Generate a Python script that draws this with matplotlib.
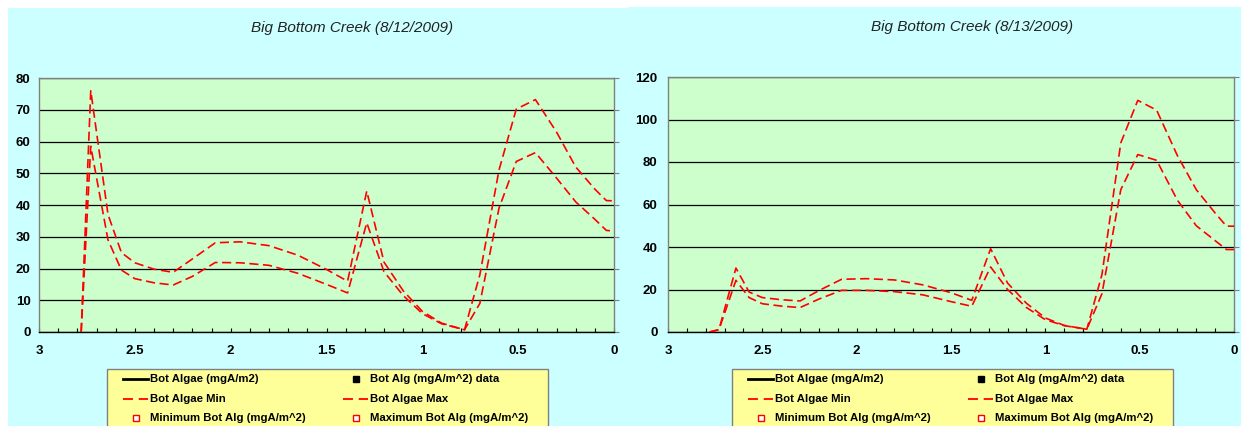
import matplotlib
matplotlib.use("Agg")
import matplotlib.pyplot as plt
from matplotlib.patches import Rectangle
from matplotlib.lines import Line2D
from matplotlib.ticker import FormatStrFormatter, MultipleLocator
import numpy as np

# ---- data -------------------------------------------------------------
river_km = [2.78, 2.73, 2.64, 2.57, 2.50, 2.40, 2.30, 2.20, 2.08, 1.95,
            1.80, 1.65, 1.50, 1.39, 1.29, 1.20, 1.10, 1.00, 0.90, 0.78,
            0.70, 0.60, 0.51, 0.41, 0.30, 0.20, 0.10, 0.04, 0.00]

algae_max_0812 = [0, 76, 37, 25, 21.8, 19.8, 18.8, 23, 28.1, 28.4,
                  27.2, 24.2, 19.7, 16, 44.4, 22, 13, 6.5, 2.8, 0.7,
                  18, 51, 70.2, 73.2, 63, 52, 45, 41.4, 41.3]
algae_min_0812 = [0, 58.5, 29, 19.5, 16.8, 15.5, 14.8, 17.5, 21.9, 21.8,
                  21, 18.5, 15, 12.3, 34.4, 19, 11.5, 5.8, 2.6, 0.7,
                  9, 39, 53.7, 56.5, 48.5, 41, 35.5, 32, 31.8]

algae_max_0813 = [0, 1.1, 30.1, 18.8, 16.2, 15.2, 14.6, 19.5, 24.8, 25.1,
                  24.5, 22.2, 18.5, 14.9, 39.2, 23, 13.5, 6.6, 3.1, 1.3,
                  27, 89, 109, 104.4, 83, 67, 56, 49.8, 49.8]
algae_min_0813 = [0, 1.1, 24.3, 16.2, 13.3, 12.2, 11.5, 15.5, 19.6, 19.6,
                  19, 17.5, 14.3, 12.1, 30.6, 20, 11.5, 5.8, 3.0, 1.3,
                  18, 67, 83.5, 80.8, 62, 50, 43, 38.8, 38.8]

titles = ["Big Bottom Creek (8/12/2009)", "Big Bottom Creek (8/13/2009)"]
y_limits = [80, 120]
y_steps = [10, 20]
x_tick_values = [0, 0.5, 1, 1.5, 2, 2.5, 3]

key_labels = [["Bot Algae (mgA/m2)", "Bot Algae Min", "Minimum Bot Alg (mgA/m^2)"],
              ["Bot Alg (mgA/m^2) data", "Bot Algae Max", "Maximum Bot Alg (mgA/m^2)"]]

# ---- styling ----------------------------------------------------------
W, H = 1241, 426
PANEL_BG = "#CCFFFF"
PLOT_BG = "#CCFFCC"
KEY_BG = "#FFFF99"
BORDER = "#808080"
RED = "#FF0000"

plt.rcParams["font.family"] = ["Liberation Sans", "DejaVu Sans"]

fig = plt.figure(figsize=(W / 100, H / 100), dpi=100, facecolor="white")


def fx(px):
    return px / W


def fy(py):
    return 1 - py / H


# chart panels, behind everything
fig.patches.append(Rectangle((fx(8), 0), fx(628 - 8), fy(8), transform=fig.transFigure,
                             facecolor=PANEL_BG, edgecolor="none", zorder=-5))
fig.patches.append(Rectangle((fx(628), 0), fx(W - 628), fy(7), transform=fig.transFigure,
                             facecolor=PANEL_BG, edgecolor="none", zorder=-5))

axes_px = [(39, 78, 614, 332), (668, 77, 1234, 332)]
label_pads = [2.6, 4.0]
title_pos = [(352, 28), (972, 27)]
key_left = [107, 732]
series = [(algae_max_0812, algae_min_0812), (algae_max_0813, algae_min_0813)]

for i in range(2):
    x0, y0, x1, y1 = axes_px[i]
    ax = fig.add_axes([fx(x0), fy(y1), fx(x1 - x0), (y1 - y0) / H], facecolor=PLOT_BG)

    amax, amin = series[i]
    ax.plot(river_km, amax, color=RED, lw=1.2, dashes=(5.5, 2.7), zorder=3)
    ax.plot(river_km, amin, color=RED, lw=1.2, dashes=(5.5, 2.7), zorder=3)

    ax.set_xlim(3, 0)
    ax.set_ylim(0, y_limits[i])
    ax.set_yticks(np.arange(0, y_limits[i] + 1, y_steps[i]))
    ax.set_xticks(x_tick_values)
    ax.xaxis.set_minor_locator(MultipleLocator(0.1))
    ax.xaxis.set_major_formatter(FormatStrFormatter("%g"))

    ax.yaxis.grid(True, color="black", lw=0.9)
    ax.set_axisbelow(True)

    for side in ("left", "top", "right"):
        ax.spines[side].set_color(BORDER)
        ax.spines[side].set_linewidth(1.0)
    ax.spines["bottom"].set_color("black")
    ax.spines["bottom"].set_linewidth(1.0)

    ax.tick_params(axis="x", which="both", direction="in", length=3, color="black",
                   top=False, width=0.8)
    ax.tick_params(axis="x", which="major", pad=9, labelsize=9.5)
    for lab in ax.get_xticklabels():
        lab.set_fontweight("bold")
    ax.tick_params(axis="y", which="major", left=False, right=True, labelleft=True,
                   labelright=False, direction="out", length=3.6, color=BORDER,
                   pad=label_pads[i], labelsize=9.5)
    for lab in ax.get_yticklabels():
        lab.set_fontweight("bold")

    tx, ty = title_pos[i]
    fig.text(fx(tx), fy(ty), titles[i], ha="center", va="center", fontsize=11,
             fontstyle="italic", color="#222222")

    # key box
    kl = key_left[i]
    fig.patches.append(Rectangle((fx(kl), fy(440)), fx(441), (440 - 369) / H,
                                 transform=fig.transFigure, facecolor=KEY_BG,
                                 edgecolor=BORDER, lw=1.0, zorder=1))
    rows = [379, 399, 418]
    col_handle = [(kl + 16, kl + 41), (kl + 236, kl + 261)]
    col_text = [kl + 43, kl + 263]
    for c in range(2):
        hx0, hx1 = col_handle[c]
        for r in range(3):
            ry = rows[r]
            if r == 0 and c == 0:
                h = Line2D([fx(hx0), fx(hx1)], [fy(ry), fy(ry)], color="black", lw=2)
            elif r == 0 and c == 1:
                h = Line2D([fx((hx0 + hx1) / 2 + 0.5)], [fy(ry)], marker="s", ms=5,
                           color="black", lw=0)
            elif r == 1:
                h = Line2D([fx(hx0), fx(hx1)], [fy(ry), fy(ry)], color=RED, lw=1.3,
                           dashes=(5.5, 3.2))
            else:
                h = Line2D([fx((hx0 + hx1) / 2 + 0.5)], [fy(ry)], marker="s", ms=5,
                           mfc="white", mec=RED, mew=1.0, lw=0)
            h.set_transform(fig.transFigure)
            h.set_zorder(2)
            fig.lines.append(h)
            fig.text(fx(col_text[c]), fy(ry), key_labels[c][r], ha="left", va="center",
                     fontsize=8.2, fontweight="bold", color="black", zorder=2)

fig.savefig("out.png", dpi=100, facecolor=fig.get_facecolor())
